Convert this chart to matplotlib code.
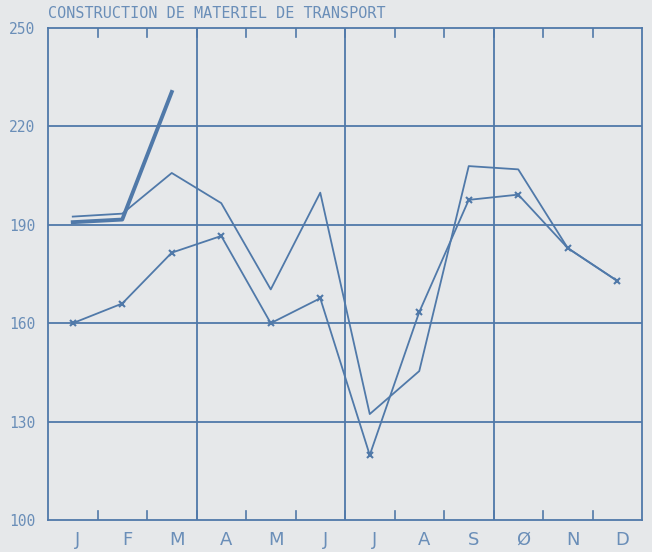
import numpy as np
import matplotlib
matplotlib.use("Agg")
import matplotlib.pyplot as plt

# donnees
mois = ["J", "F", "M", "A", "M", "J", "J", "A", "S", "Ø", "N", "D"]
annee_marques = [160, 166, 181.5, 186.6, 160, 167.6, 119.8, 163.4, 197.6, 199.2, 182.9, 172.9]
annee_ligne = [192.5, 193.4, 205.8, 196.6, 170.3, 199.8, 132.3, 145.4, 207.9, 206.9, 182.9, 172.9]
annee_courante = [190.8, 191.6, 230.5]
y_ticks = [100, 130, 160, 190, 220, 250]
titre = "CONSTRUCTION DE MATERIEL DE TRANSPORT"

bleu = "#5079a9"
bleu_txt = "#6a8eb8"
fond = "#e6e8ea"

fig = plt.figure(figsize=(6.52, 5.52), dpi=100, facecolor=fond)
ax = fig.add_axes([48/652, 32/552, 594/652, 492/552], facecolor=fond)

x = np.arange(12)
ax.plot(x, annee_ligne, color=bleu, lw=1.3)
ax.plot(x, annee_marques, color=bleu, lw=1.3, marker="x", ms=5, mew=1.5)
ax.plot(x[:3], annee_courante, color=bleu, lw=2.8)

ax.set_xlim(-0.5, 11.5)
ax.set_ylim(100, 250)

# grille
for v in y_ticks[1:-1]:
    ax.axhline(v, color=bleu, lw=1.3)
for q in [2.5, 5.5, 8.5]:
    ax.axvline(q, color=bleu, lw=1.3)
for b in np.arange(0.5, 11.5, 1):
    ax.plot([b, b], [100, 102.8], color=bleu, lw=1.2)
    ax.plot([b, b], [250, 247.2], color=bleu, lw=1.2)

for s in ax.spines.values():
    s.set_color(bleu)
    s.set_linewidth(1.3)

ax.set_yticks(y_ticks)
ax.set_yticklabels([str(v) for v in y_ticks], family="DejaVu Sans Mono",
                   fontsize=10.5, color=bleu_txt)
ax.set_xticks(x + 0.1)
ax.set_xticklabels(mois, family="DejaVu Sans", fontsize=13, color=bleu_txt)
ax.tick_params(axis="y", length=0, pad=9)
ax.tick_params(axis="x", length=0, pad=8)

fig.text(48/652, 1 - 14/552, titre, family="DejaVu Sans Mono", fontsize=10.9,
         color=bleu_txt, va="center", ha="left")

fig.savefig("out.png", dpi=100, facecolor=fond)
